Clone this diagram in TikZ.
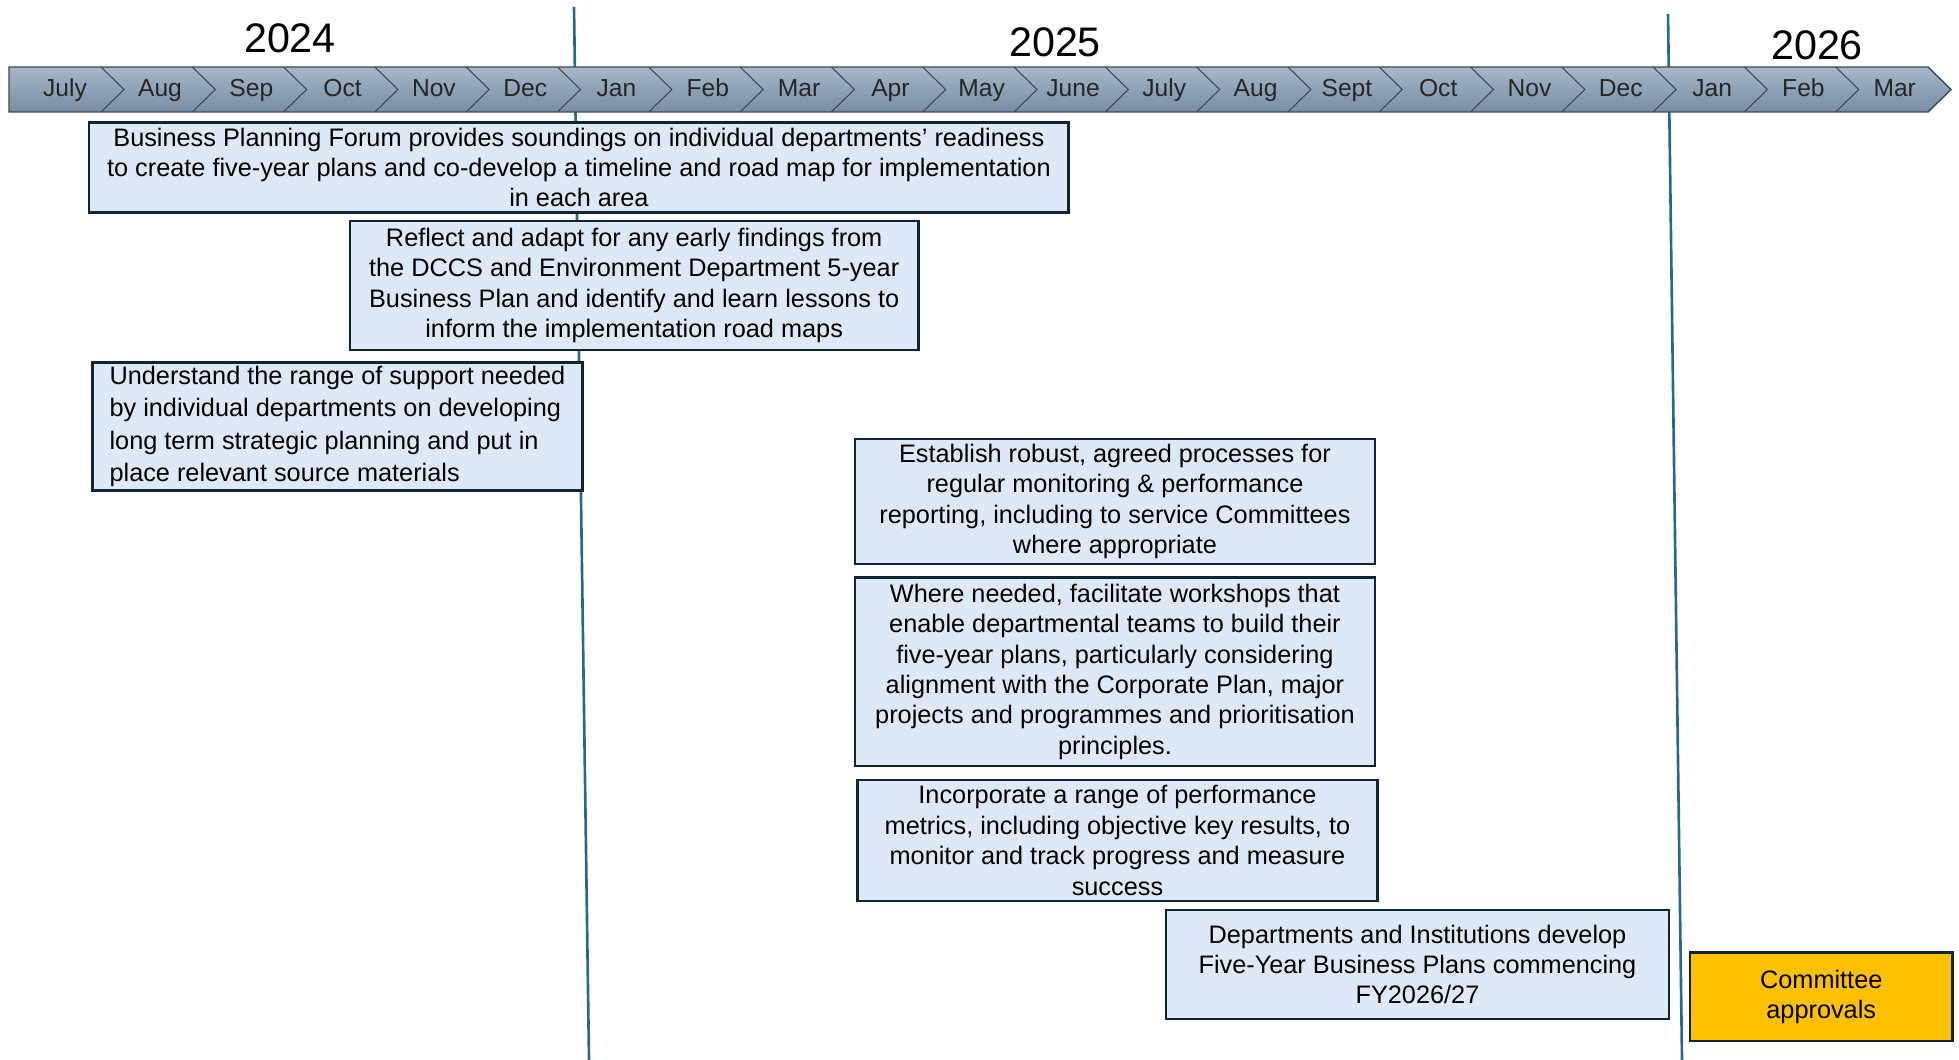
\documentclass[tikz,border=0pt]{standalone}
\usepackage{fontspec}
\setmainfont{Liberation Sans}
\usepackage{tikz}
\definecolor{boxfill}{RGB}{221,233,246}
\definecolor{boxline}{RGB}{16,37,52}
\definecolor{yearline}{RGB}{38,105,140}
\definecolor{barhi}{RGB}{166,184,200}
\definecolor{barlo}{RGB}{118,141,164}
\definecolor{barline}{RGB}{64,72,80}
\definecolor{approvefill}{RGB}{255,192,0}
\tikzset{task/.style = {shape = rectangle, draw = boxline, fill = boxfill, line width = 1.6pt, align = center, anchor = north west, inner sep = 2pt, outer sep = 0pt, font = \fontsize{14.4}{17.3}\selectfont}}
\tikzset{month/.style = {anchor = base, inner sep = 0pt, font = \fontsize{14}{16}\selectfont, text = black!85}}
\tikzset{year/.style = {anchor = base, inner sep = 0pt, font = \fontsize{23.5}{26}\selectfont}}
\tikzset{divider/.style = {draw = yearline, line width = 1.5pt}}
\tikzset{chevron/.style = {draw = barline, line width = 0.6pt}}

\begin{document}
\begin{tikzpicture}[x = 0.02cm, y = -0.02cm]
	\useasboundingbox (0,0) rectangle (1959,1060);

	\coordinate (d1t) at (574,7);
	\coordinate (d1b) at (589,1060);
	\coordinate (d2t) at (1668,14);
	\coordinate (d2b) at (1682,1060);
	\draw[divider] (d1t) -- (d1b);
	\draw[divider] (d2t) -- (d2b);

	\shadedraw[top color = barhi, bottom color = barlo, draw = barline, line width = 0.8pt] (9,67) -- (1928,67) -- (1951,89.5) -- (1928,112) -- (9,112) -- cycle;
	\foreach \k in {1,...,20}
		\draw[chevron] ({101+91.3*(\k-1)},67) -- ++(23,22.5) -- ++(-23,22.5);

	\foreach \m [count = \k from 0] in {July,Aug,Sep,Oct,Nov,Dec,Jan,Feb,Mar,Apr,May,June,July,Aug,Sept,Oct,Nov,Dec,Jan,Feb,Mar}
	{
		\pgfmathsetmacro\mx{ifthenelse(\k==0, 65, 101+91.3*(\k-1)+59)}
		\node[month] (m\k) at (\mx,97) {\m};
	}

	\node[year] (y24) at (290,53) {2024};
	\node[year] (y25) at (1055,56.5) {2025};
	\node[year] (y26) at (1817,59.5) {2026};

	\node[task, minimum width = 19.6cm, minimum height = 1.8cm] (forum) at (89,122.5) {Business Planning Forum provides soundings on individual departments’ readiness\\to create five-year plans and co-develop a timeline and road map for implementation\\in each area};
	\node[task, minimum width = 11.37cm, minimum height = 2.58cm] (reflect) at (350,221) {Reflect and adapt for any early findings from\\the DCCS and Environment Department 5-year\\Business Plan and identify and learn lessons to\\inform the implementation road maps};
	\node[task, align = left, minimum width = 9.8cm, minimum height = 2.55cm, font = \fontsize{14.4}{18.4}\selectfont] (support) at (92.5,362.5) {Understand the range of support needed\\by individual departments on developing\\long term strategic planning and put in\\place relevant source materials};
	\node[task, minimum width = 10.4cm, minimum height = 2.5cm] (monitor) at (855,439) {Establish robust, agreed processes for\\regular monitoring \& performance\\reporting, including to service Committees\\where appropriate};
	\node[task, minimum width = 10.4cm, minimum height = 3.77cm] (workshop) at (855,577.5) {Where needed, facilitate workshops that\\enable departmental teams to build their\\five-year plans, particularly considering\\alignment with the Corporate Plan, major\\projects and programmes and prioritisation\\principles.};
	\node[task, minimum width = 10.4cm, minimum height = 2.42cm] (metrics) at (857.5,780) {Incorporate a range of performance\\metrics, including objective key results, to\\monitor and track progress and measure\\success};
	\node[task, minimum width = 10.06cm, minimum height = 2.18cm] (develop) at (1166,910) {Departments and Institutions develop\\Five-Year Business Plans commencing\\FY2026/27};
	\node[task, fill = approvefill, minimum width = 5.25cm, minimum height = 1.77cm] (approve) at (1690,952.5) {Committee\\approvals};
\end{tikzpicture}
\end{document}
